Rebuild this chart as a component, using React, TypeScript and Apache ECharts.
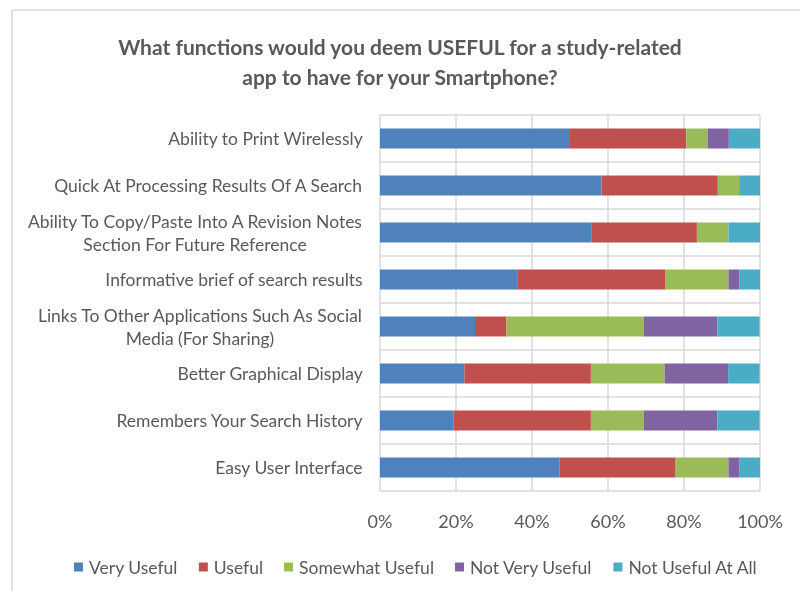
import React, { useEffect, useRef } from "react";
import * as echarts from "echarts";

const categories = [
  "Ability to Print Wirelessly",
  "Quick At Processing Results Of A Search",
  "Ability To Copy/Paste Into A Revision Notes\nSection For Future Reference",
  "Informative brief of search results",
  "Links To Other Applications Such As Social\nMedia (For Sharing)",
  "Better Graphical Display",
  "Remembers Your Search History",
  "Easy User Interface",
];

const seriesNames = ["Very Useful", "Useful", "Somewhat Useful", "Not Very Useful", "Not Useful At All"];

const veryUseful = [50.0, 58.3, 55.6, 36.1, 25.0, 22.2, 19.4, 47.2];
const useful = [30.6, 30.6, 27.8, 38.9, 8.3, 33.3, 36.1, 30.6];
const somewhatUseful = [5.6, 5.6, 8.3, 16.7, 36.1, 19.4, 13.9, 13.9];
const notVeryUseful = [5.6, 0, 0, 2.8, 19.4, 16.7, 19.4, 2.8];
const notUsefulAtAll = [8.3, 5.6, 8.3, 5.6, 11.1, 8.3, 11.1, 5.6];

const xTicks = [0, 20, 40, 60, 80, 100];

const colors = ["#4F81BD", "#C0504D", "#9BBB59", "#8064A2", "#4BACC6"];

const FONT = "Lato, 'Open Sans', sans-serif";
const TEXT = "#595959";
const GRID = "#d9d9d9";

export default function App() {
  const ref = useRef<HTMLDivElement>(null);
  useEffect(() => {
    if (!ref.current) return;
    const chart = echarts.init(ref.current, null, { renderer: "svg" });
    const values = [veryUseful, useful, somewhatUseful, notVeryUseful, notUsefulAtAll];
    chart.setOption({
      animation: false,
      color: colors,
      textStyle: { fontFamily: FONT },
      title: {
        text: "What functions would you deem USEFUL for a study-related\napp to have for your Smartphone?",
        left: "center",
        top: 26,
        textStyle: {
          fontFamily: FONT,
          fontSize: 21,
          fontWeight: "bold",
          color: TEXT,
          lineHeight: 30,
        },
      },
      grid: { left: 380, right: 40, top: 115, bottom: 100, containLabel: false },
      xAxis: {
        type: "value",
        min: xTicks[0],
        max: xTicks[xTicks.length - 1],
        interval: 20,
        axisLabel: {
          formatter: "{value}%",
          fontSize: 18,
          color: TEXT,
          margin: 21,
          fontFamily: FONT,
        },
        axisLine: { show: false },
        axisTick: { show: false },
        splitLine: { show: true, lineStyle: { color: GRID, width: 1.5 } },
      },
      yAxis: {
        type: "category",
        inverse: true,
        data: categories,
        axisTick: { show: false },
        axisLine: { show: false },
        splitLine: { show: true, lineStyle: { color: GRID, width: 1.5 } },
        axisLabel: {
          fontSize: 17.5,
          color: TEXT,
          margin: 17,
          fontFamily: FONT,
          lineHeight: 23,
          formatter: (v: string) =>
            v
              .split("\n")
              .map((l) => `{c|${l}}`)
              .join("\n"),
          rich: {
            c: { align: "center", fontSize: 17.5, color: TEXT, fontFamily: FONT, lineHeight: 23 },
          },
        },
      },
      legend: {
        top: 553,
        left: 69,
        icon: "rect",
        itemWidth: 9,
        itemHeight: 9,
        itemGap: 21,
        data: seriesNames,
        textStyle: { fontSize: 17.5, color: TEXT, fontFamily: FONT, padding: [2, 0, 0, 1] },
      },
      series: seriesNames.map((name, i) => ({
        name,
        type: "bar",
        stack: "total",
        barWidth: 20,
        data: values[i],
      })),
      graphic: [
        { type: "line", shape: { x1: 12, y1: 10, x2: 800, y2: 10 }, style: { stroke: GRID, lineWidth: 1.5 } },
        { type: "line", shape: { x1: 12, y1: 10, x2: 12, y2: 591 }, style: { stroke: GRID, lineWidth: 1.5 } },
      ],
    });
    return () => chart.dispose();
  }, []);
  return <div ref={ref} style={{ position: "fixed", left: 0, top: 0, width: 800, height: 591 }} />;
}
